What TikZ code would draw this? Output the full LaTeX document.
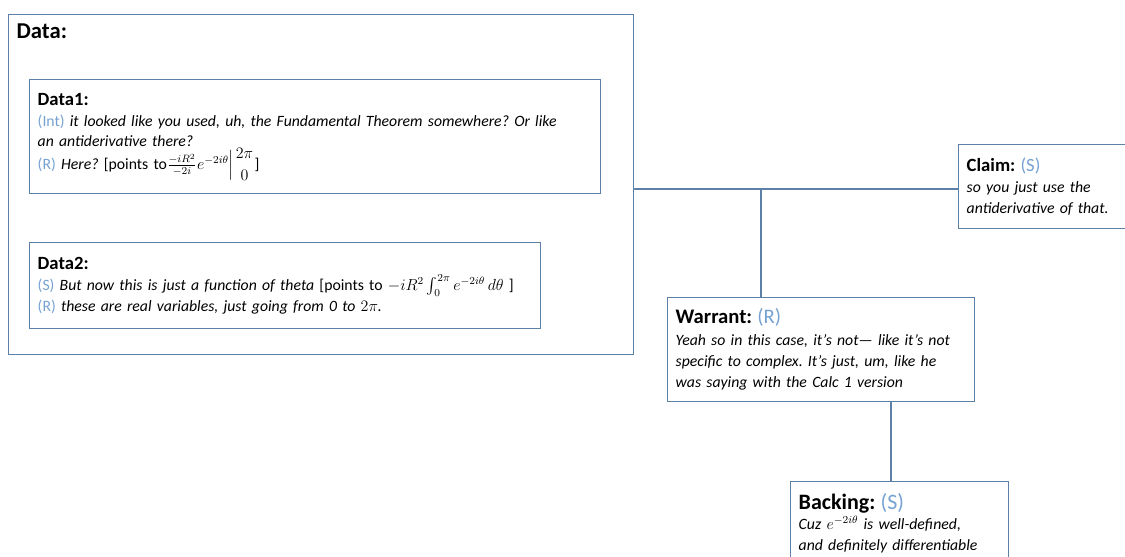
\documentclass[tikz,border=0pt]{standalone}
\usepackage{amsmath}
\usepackage{fontspec}
\setmainfont{Carlito}
\usetikzlibrary{positioning}
\definecolor{boxline}{RGB}{92,128,168}
\definecolor{who}{RGB}{118,162,210}
\newcommand{\spk}[1]{\textcolor{who}{(#1)}}
\newcommand{\boxhead}[1][14]{\bfseries\fontsize{#1}{18}\selectfont}
\frenchspacing

\begin{document}
\begin{tikzpicture}[x=0.75pt,y=-0.75pt,line cap=round,
  box/.style={draw=boxline,line width=1.1pt,anchor=north west,align=left,
    inner xsep=6pt,inner ysep=5pt,font=\fontsize{11.8}{15.5}\selectfont},
  head/.style={font=\boxhead[17]},
  link/.style={draw=boxline,line width=1.1pt}]
\clip (0,0) rectangle (1125,557);
\fill[white] (0,0) rectangle (1125,557);
% the data frame and its two pieces
\node[box,minimum width=468.75pt,minimum height=255pt,
  label={[head,anchor=north west,xshift=3pt,yshift=-4pt,name=datahead]north west:Data:}] (data) at (8,14) {};
\node[box,text width=416.25pt,minimum height=85.5pt] (data1) at (29,79)
  {{\boxhead Data1:}\\
   \spk{Int} \textit{it looked like you used, uh, the Fundamental Theorem somewhere? Or like}\\
   \textit{an antiderivative there?}\\
   \spk{R} \textit{Here?} [points to$\frac{-iR^2}{-2i}e^{-2i\theta}\Big|\genfrac{}{}{0pt}{0}{2\pi}{0}$]};
\node[box,text width=371.25pt,minimum height=64.5pt] (data2) at (29,242)
  {{\boxhead Data2:}\\
   \spk{S} \textit{But now this is just a function of theta} [points to $-iR^2\int_0^{2\pi}e^{-2i\theta}\,d\theta$ ]\\
   \spk{R} \textit{these are real variables, just going from 0 to $2\pi$.}};
% claim, warrant, backing
\node[box,text width=154.5pt,minimum height=63pt] (claim) at (958,144)
  {{\boxhead Claim: {\mdseries\textcolor{who}{(S)}}}\\
   \textit{so you just use the}\\
   \textit{antiderivative of that.}};
\node[box,text width=218.25pt,minimum height=78pt,font=\fontsize{11.8}{16}\selectfont] (warrant) at (667,297)
  {{\boxhead[15.5]Warrant: {\mdseries\textcolor{who}{(R)}}}\\
   \textit{Yeah so in this case, it's not--- like it's not}\\
   \textit{specific to complex. It's just, um, like he}\\
   \textit{was saying with the Calc 1 version}};
\node[box,text width=151.5pt,minimum height=80pt,inner ysep=4pt] (back) at (790,481)
  {{\boxhead[16.5]Backing: {\mdseries\textcolor{who}{(S)}}}\\
   \textit{Cuz $e^{-2i\theta}$ is well-defined,}\\
   \textit{and definitely differentiable}\\ \strut};
% connectors
\coordinate (hub) at (761,189);
\coordinate (stem) at (891,440);
\draw[link] (data.east |- hub) -- (claim.west |- hub);
\draw[link] (hub) -- (hub |- warrant.north);
\draw[link] (warrant.south -| stem) -- (back.north -| stem);
\end{tikzpicture}
\end{document}
